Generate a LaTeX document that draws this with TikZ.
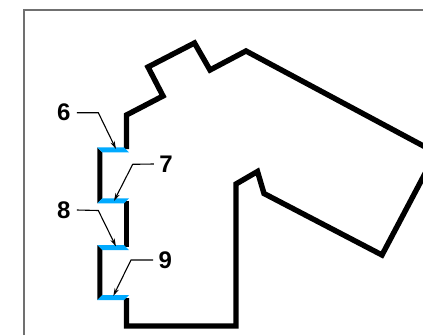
\documentclass[tikz,border=0pt]{standalone}
\usepackage{fontspec}
\setmainfont{Liberation Sans}
\usetikzlibrary{arrows.meta}
\definecolor{bandblue}{HTML}{00AAFF}
\definecolor{framegray}{HTML}{707070}
\tikzset{
  x=1pt,y=-1pt,
  profile/.style={draw=black,line width=5.4pt,miter limit=10,line join=miter},
  band/.style={fill=bandblue,draw=none},
  wall/.style={fill=black,draw=none},
  callout/.style={font=\fontsize{24}{24}\selectfont\bfseries,text=black,inner sep=0pt},
  leader/.style={draw=black,line width=1.1pt,-{Stealth[length=8pt,width=4.5pt]}},
  frameline/.style={draw=framegray,line width=2pt}
}
\begin{document}
\begin{tikzpicture}
\useasboundingbox (0,0) rectangle (423,335);
\begin{scope}
\clip (0,0) rectangle (423,335);
\draw[frameline] (23.5,335) -- (23.5,9.5) -- (423,9.5);
\draw[profile] (126.5,149) -- (126.5,115) -- (163,96) -- (148,67) -- (194.5,43) -- (210,70) -- (246,51) -- (436,152.7) -- (382,255) -- (264,193.5) -- (257.5,171.5) -- (236,184) -- (236,326) -- (126.5,326) -- (126.5,298);
\draw[profile] (126.5,201) -- (126.5,247);
\fill[wall] (97.3,147.3) -- (102.3,152.3) -- (102.3,198.3) -- (97.3,203.3) -- cycle;
\fill[wall] (97.3,245) -- (102.3,250) -- (102.3,295) -- (97.3,300) -- cycle;
\fill[band] (97.3,147.3) -- (124,147.3) -- (129,152.3) -- (102.3,152.3) -- cycle;
\fill[band] (102.3,198.3) -- (129,198.3) -- (124,203.3) -- (97.3,203.3) -- cycle;
\fill[band] (97.3,245) -- (124,245) -- (129,250) -- (102.3,250) -- cycle;
\fill[band] (102.3,295) -- (129,295) -- (124,300) -- (97.3,300) -- cycle;
\end{scope}
\node[callout] (n6) at (63.7,112.7) {6};
\node[callout] (n7) at (166,164) {7};
\node[callout] (n8) at (63.7,210) {8};
\node[callout] (n9) at (165.3,260) {9};
\coordinate (b6) at (98.3,112.7);
\coordinate (t6) at (116,149);
\coordinate (b7) at (132.7,164.3);
\coordinate (t7) at (114,201);
\coordinate (b8) at (98.3,210.5);
\coordinate (t8) at (116,246.5);
\coordinate (b9) at (131,260);
\coordinate (t9) at (113.3,296);
\draw[leader] ([xshift=6.2pt]n6.east) -- (b6) -- (t6);
\draw[leader] ([xshift=-5.3pt]n7.west) -- (b7) -- (t7);
\draw[leader] ([xshift=6.2pt]n8.east) -- (b8) -- (t8);
\draw[leader] ([xshift=-5.3pt]n9.west) -- (b9) -- (t9);
\end{tikzpicture}
\end{document}
